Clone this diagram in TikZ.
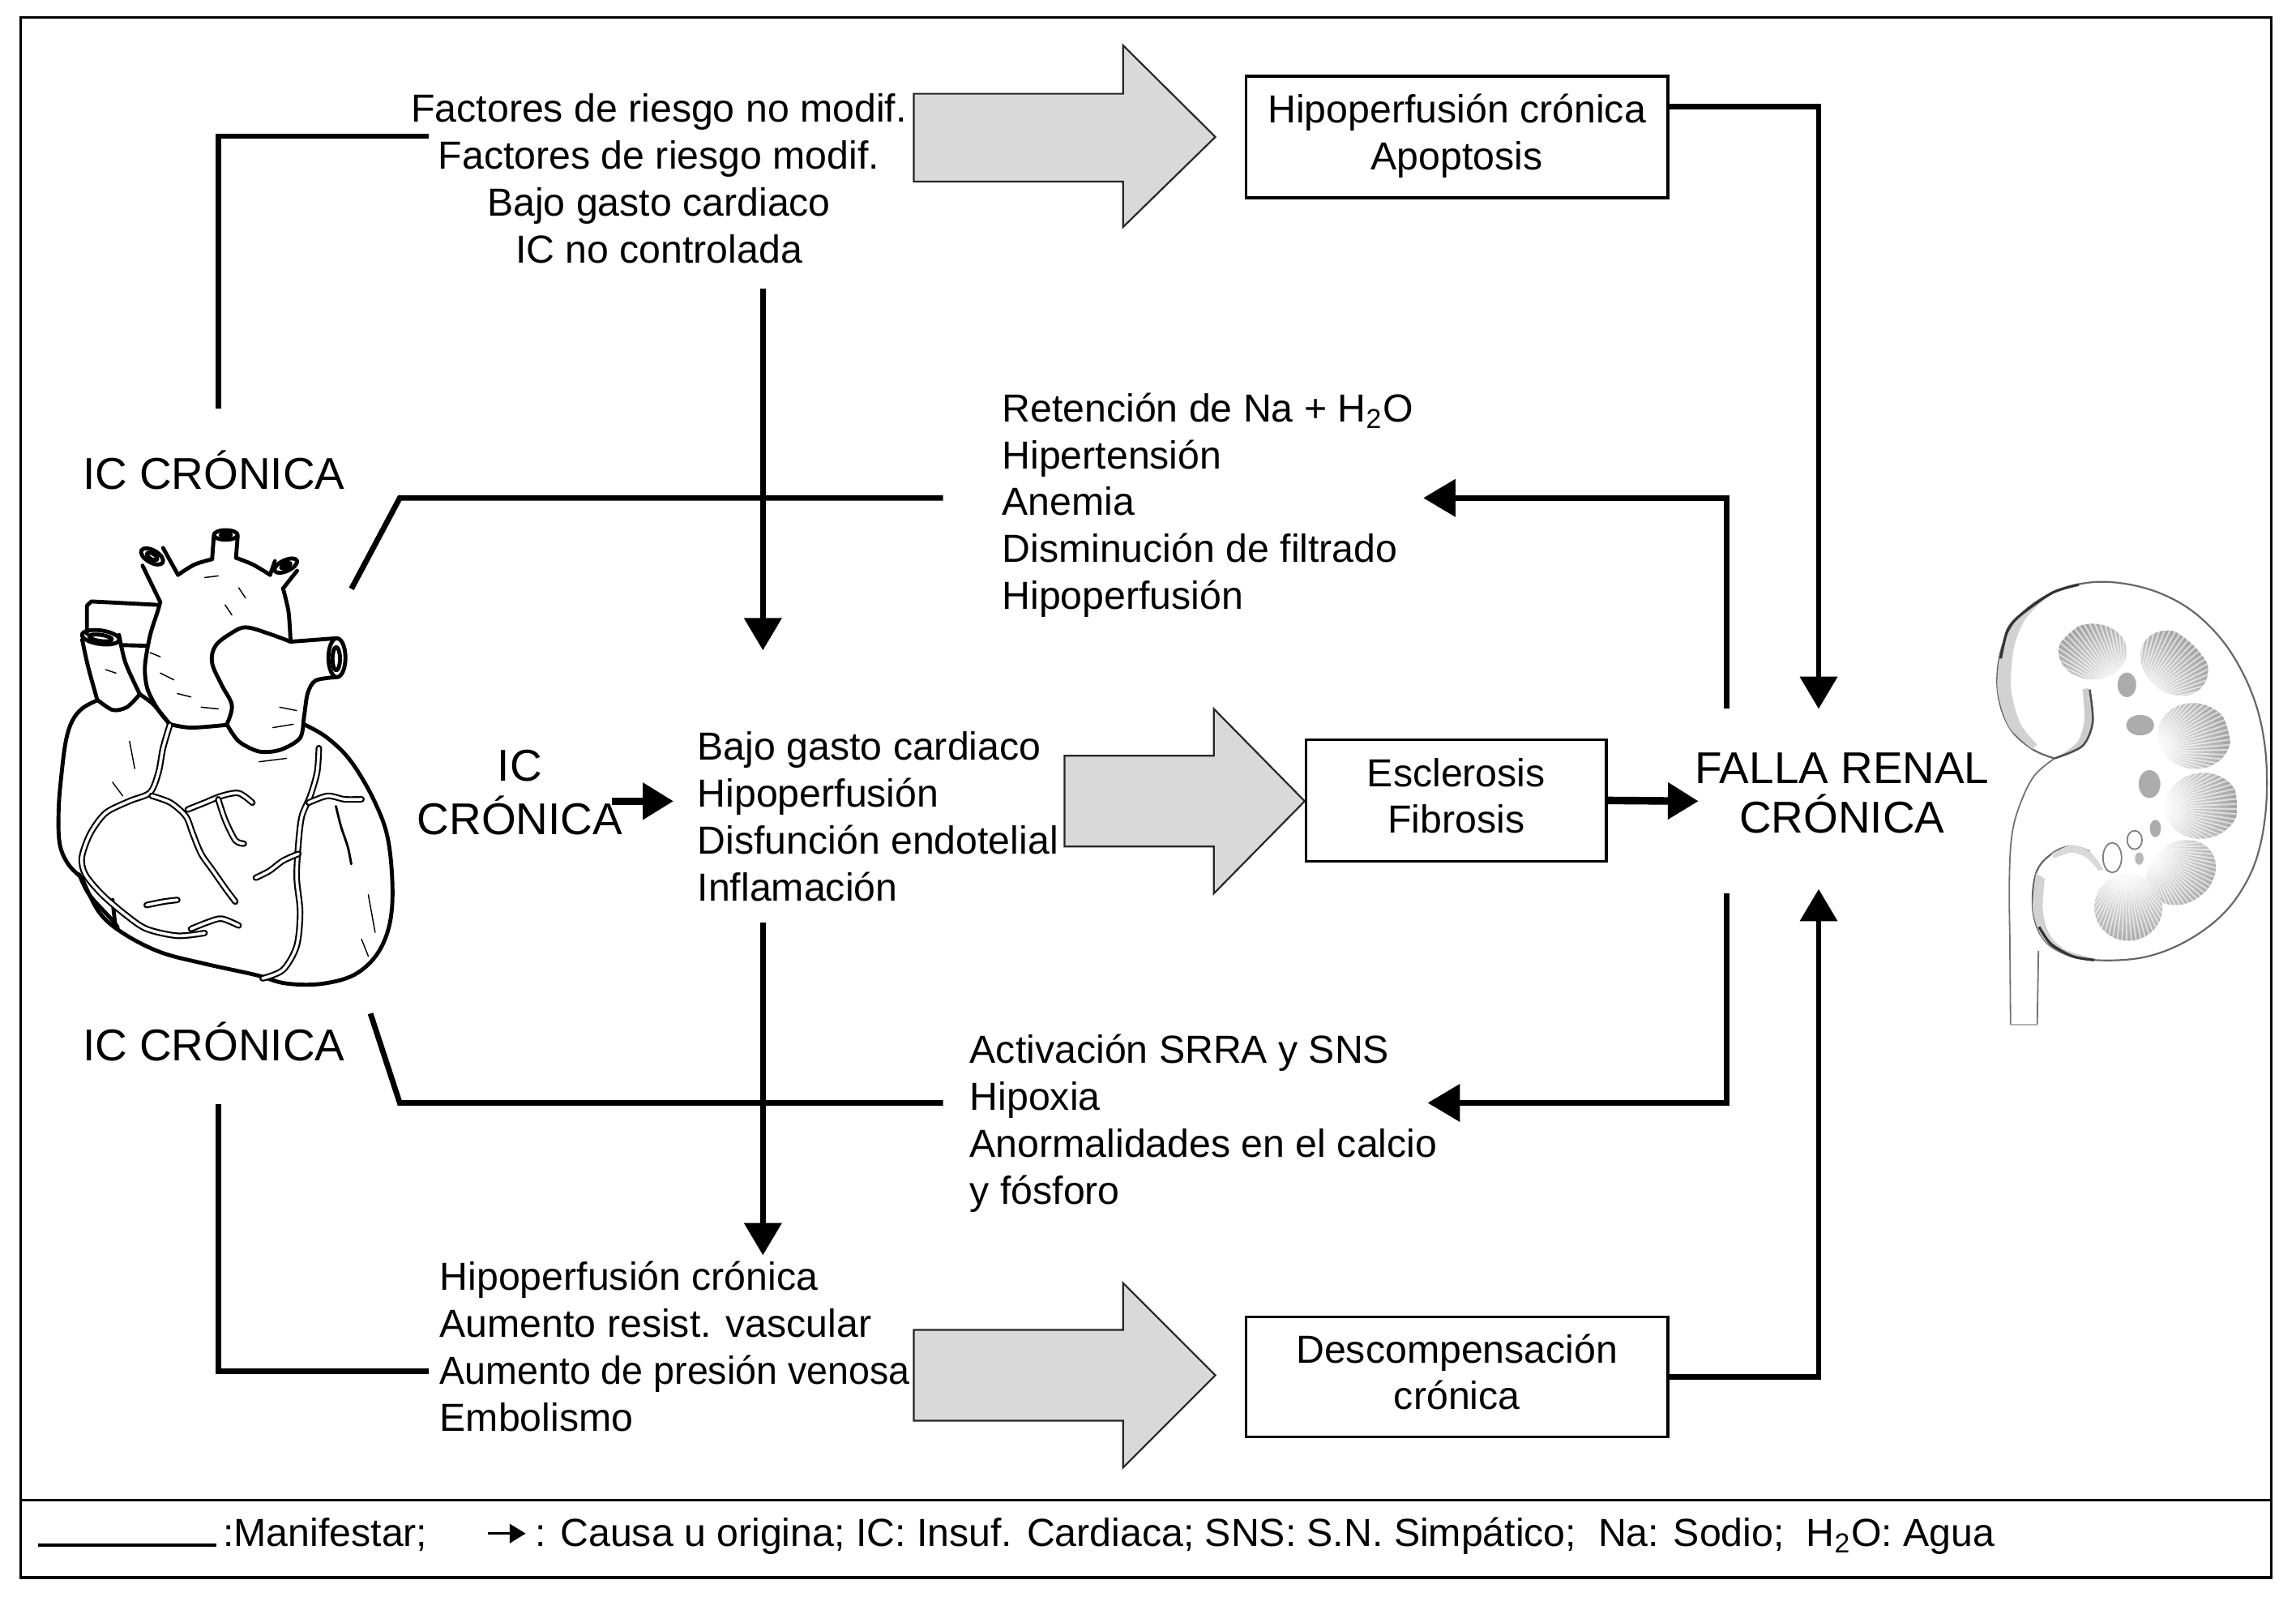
\documentclass[tikz,border=0pt]{standalone}
\usepackage{fontspec}
\usepackage{graphicx}
\setmainfont{Liberation Sans}
\usetikzlibrary{arrows.meta}
\newcommand\fsz{\fontsize{13.35pt}{16pt}\selectfont}
\newcommand\fbig{\fontsize{15.2pt}{17.5pt}\selectfont}
\newcommand\mylines[2][l]{\begin{tabular}[t]{@{}#1@{}}#2\end{tabular}}
% pyramid: cx cy rx ry rot apexX apexY
\newcommand\pyr[7]{%
  \begin{scope}
   \clip[rotate around={#5:(#1,#2)}] (#1,#2) ellipse[x radius=#3, y radius=#4];
   \shade[inner color=white, outer color=gray!72] (#6,#7) circle[radius=270];
   \pgfmathsetmacro\pbase{atan2(#2-#7,#1-#6)}%
   \foreach \k in {0,...,34}{%
     \pgfmathsetmacro\pang{\pbase-60+3.5*\k}%
     \draw[white, opacity=0.6, line width=0.5pt] (#6,#7) -- ++(\pang:420);}%
  \end{scope}%
}
\tikzset{
  conn/.style={line width=1.9pt, line join=miter},
  tip/.style={-{Triangle[length=11pt,width=12.5pt]}},
  fat/.style={line width=2.6pt, -{Triangle[length=10.5pt,width=12pt]}},
  blk/.style={fill=gray!30, draw=black!85, line width=0.6pt, line join=miter},
  box/.style={draw, line width=0.9pt, inner sep=0pt, font=\fsz},
  txt/.style={inner sep=0pt, font=\fsz},
  big/.style={inner sep=0pt, font=\fbig},
  hl/.style={line width=1.35pt, line join=round, line cap=round},
  vessel/.style={line width=0.6pt, double=white, double distance=1pt, line cap=round, line join=round},
  thinl/.style={line width=0.4pt, line cap=round},
}
\begin{document}
\begin{tikzpicture}[x=0.5pt,y=-0.5pt]
\useasboundingbox (0,0) rectangle (1568,1090);
\fill[white] (0,0) rectangle (1568,1090);
% frame and legend separator
\draw[line width=0.9pt] (14,12) rectangle (1551,1077);
\draw[line width=0.9pt] (14,1024) -- (1551,1024);

% ---------------- big gray arrows ----------------
\draw[blk] (624,64) -- (767,64) -- (767,31) -- (830,93.5) -- (767,155) -- (767,124) -- (624,124) -- cycle;
\draw[blk] (727,516) -- (829,516) -- (829,484) -- (891,547) -- (829,610) -- (829,578) -- (727,578) -- cycle;
\draw[blk] (624,908) -- (767,908) -- (767,876) -- (830,939) -- (767,1002) -- (767,970) -- (624,970) -- cycle;

% ---------------- texts ----------------
\node[txt, anchor=base] (t1) at (450,83.5) {\mylines[c]{Factores de riesgo no modif.\\Factores de riesgo modif.\\Bajo gasto cardiaco\\IC no controlada}};
\node[txt, anchor=base west] (t2) at (684,288) {\mylines{Retención de Na + H\textsubscript{2}O\\Hipertensión\\Anemia\\Disminución de filtrado\\Hipoperfusión}};
\node[txt, anchor=base west] (t3) at (476,519) {\mylines{Bajo gasto cardiaco\\Hipoperfusión\\Disfunción endotelial\\Inflamación}};
\node[txt, anchor=base west] (t4) at (662,726) {\mylines{Activación SRRA y SNS\\Hipoxia\\Anormalidades en el calcio\\y fósforo}};
\node[txt, anchor=base west] (t5) at (300,881) {\mylines{Hipoperfusión crónica\\Aumento resist. vascular\\\scalebox{0.965}[1]{Aumento de presión venosa}\\Embolismo}};
\node[big, anchor=base] (ic1) at (146,334) {IC CRÓNICA};
\node[big, anchor=base] (ic2) at (146,724) {IC CRÓNICA};
\node[big, anchor=base] (ic3) at (355,533) {\mylines[c]{IC\\CRÓNICA}};
\node[big, anchor=base] (frc) at (1258,535) {\mylines[c]{FALLA RENAL\\[-1.5pt]CRÓNICA}};

% ---------------- boxes ----------------
\node[box, minimum width=144pt, minimum height=41.5pt] (b1) at (995,93.5) {\raisebox{-1.5pt}{\mylines[c]{Hipoperfusión crónica\\Apoptosis}}};
\node[box, minimum width=102.5pt, minimum height=41.5pt] (b2) at (994.5,546.5) {\raisebox{1.5pt}{\mylines[c]{Esclerosis\\Fibrosis}}};
\node[box, minimum width=144pt, minimum height=41pt] (b3) at (995,940) {\raisebox{0.5pt}{\mylines[c]{Descompensación\\crónica}}};

% ---------------- connector end points ----------------
\coordinate (brA) at (149,279);
\coordinate (brB) at (293,93);
\coordinate (brC) at (149,754);
\coordinate (brD) at (293,936);
\coordinate (d1s) at (521,197);
\coordinate (d1e) at (521,444);
\coordinate (d2s) at (521,630);
\coordinate (d2e) at (521,857);
\coordinate (hA) at (240,402);
\coordinate (hB) at (273,340);
\coordinate (hC) at (644,340);
\coordinate (hD) at (253,692);
\coordinate (hE) at (273,753);
\coordinate (hF) at (644,753);
\coordinate (kTop) at (1242,484);
\coordinate (kBot) at (1242,607);
\coordinate (kL1) at (1179,484);
\coordinate (kL2) at (1179,610);
\coordinate (rA) at (972,340);
\coordinate (rB) at (975,753);
\coordinate (icS) at (418,547);
\coordinate (icE) at (460,547);
\coordinate (frW) at (1160,547);

% ---------------- connectors ----------------
\draw[conn] (brA) |- (brB);
\draw[conn] (brC) |- (brD);
\draw[conn, tip] (d1s) -- (d1e);
\draw[conn, tip] (d2s) -- (d2e);
\draw[conn] (hA) -- (hB) -- (hC);
\draw[conn] (hD) -- (hE) -- (hF);
\draw[conn, tip] ([yshift=10.25pt]b1.east) -| (kTop);
\draw[conn, tip] (b3.east) -| (kBot);
\draw[conn, tip] (kL1) |- (rA);
\draw[conn, tip] (kL2) |- (rB);
\draw[fat] (icS) -- (icE);
\draw[fat] (b2.east) -- (frW);

% ---------------- legend ----------------
\coordinate (lgA) at (26,1055);
\coordinate (lgB) at (148,1055);
\draw[line width=1.1pt] (lgA) -- (lgB);
\node[txt, anchor=base west] (lg1) at (152,1056) {:Manifestar;};
\coordinate (lgC) at (333,1047);
\coordinate (lgD) at (359,1047);
\draw[line width=0.9pt, -{Triangle[length=5.5pt,width=6.5pt]}] (lgC) -- (lgD);
\node[txt, anchor=base west] (lg2) at (365,1056) {: Causa u origina; IC: Insuf. Cardiaca; SNS: S.N. Simpático;\ \ Na: Sodio;\ \ H\textsubscript{2}O: Agua};

% ---------------- heart ----------------
\begin{scope}[shift={(0,343.1)}, scale=0.2329]
 % superior vena cava
 \draw[hl, rotate around={-8:(295,395)}] (295,395) ellipse[x radius=55, y radius=20];
 \draw[hl, rotate around={-8:(295,397)}] (295,397) ellipse[x radius=34, y radius=9];
 \draw[hl] plot[smooth] coordinates {(241,402) (258,480) (285,578)};
 \draw[hl] plot[smooth] coordinates {(349,388) (368,470) (410,562)};
 \draw[hl] plot[smooth] coordinates {(285,578) (330,608) (372,600) (410,562)};
 % right pulmonary artery
 \draw[hl] (462,300) -- (268,290) -- (255,302) -- (255,385);
 \draw[hl] (360,418) -- (432,420);
 % right atrium
 \draw[hl] plot[smooth, tension=0.6] coordinates {(285,580) (242,603) (212,640) (193,700) (180,800) (172,900) (175,1000) (200,1060) (240,1100)};
 \draw[hl] plot[smooth] coordinates {(410,562) (448,590) (478,625) (498,650)};
 % ventricles
 \draw[hl] plot[smooth, tension=0.6] coordinates {(240,1100) (290,1200) (360,1262) (470,1318) (600,1352) (750,1385) (840,1410) (950,1410) (1050,1378) (1120,1300) (1150,1180) (1140,1000) (1100,880) (1030,760) (960,690) (895,652)};
 \draw[hl] plot[smooth] coordinates {(232,1090) (262,1150) (330,1225) (345,1245)};
 \draw[hl] (330,1165) -- (338,1240);
 % aorta and arch vessels
 \draw[hl] plot[smooth] coordinates {(498,650) (462,605) (432,545) (425,480) (440,390) (462,320) (470,292)};
 \draw[hl] plot[smooth] coordinates {(498,650) (560,660) (665,652)};
 \draw[hl] (470,292) -- (418,185);
 \draw[hl] (522,212) -- (478,133);
 \draw[hl, rotate around={-30:(446,158)}] (446,158) ellipse[x radius=36, y radius=18];
 \draw[hl, rotate around={-30:(446,158)}] (446,158) ellipse[x radius=17, y radius=8];
 \draw[hl] plot[smooth] coordinates {(522,212) (570,182) (622,166)};
 \draw[hl] (622,166) -- (627,98);
 \draw[hl] (692,162) -- (697,98);
 \draw[hl] (662,95) ellipse[x radius=35, y radius=14];
 \draw[hl] (662,95) ellipse[x radius=15, y radius=6];
 \draw[hl] plot[smooth] coordinates {(692,162) (742,182) (792,212)};
 \draw[hl] (792,212) -- (806,172);
 \draw[hl] (830,252) -- (871,200);
 \draw[hl, rotate around={25:(838,185)}] (838,185) ellipse[x radius=36, y radius=16];
 \draw[hl, rotate around={25:(838,185)}] (838,185) ellipse[x radius=15, y radius=6];
 \draw[hl] plot[smooth] coordinates {(830,252) (846,320) (852,405)};
 % pulmonary trunk
 \draw[hl] plot[smooth, tension=0.6] coordinates {(665,650) (680,595) (650,535) (622,470) (632,420) (680,382) (722,366) (790,385) (852,408)};
 \draw[hl] (852,408) -- (985,398);
 \draw[hl] plot[smooth] coordinates {(985,512) (925,522) (902,560) (892,625) (880,690) (822,725) (760,730) (700,700) (665,650)};
 \draw[hl, fill=white] (988,455) ellipse[x radius=25, y radius=57];
 \draw[hl] (986,458) ellipse[x radius=11, y radius=34];
 % coronary vessels
 \draw[vessel] plot[smooth] coordinates {(498,652) (478,720) (465,790) (440,850) (380,875) (310,910) (265,970) (240,1040) (250,1090) (300,1150) (370,1210) (430,1250) (520,1270) (600,1262)};
 \draw[vessel] plot[smooth] coordinates {(445,860) (500,880) (545,920) (565,970) (590,1030) (625,1080) (660,1130) (690,1170)};
 \draw[vessel] plot[smooth] coordinates {(550,900) (600,880) (650,860) (700,852) (740,880)};
 \draw[vessel] plot[smooth] coordinates {(935,720) (930,790) (910,860) (885,920) (875,1000) (870,1100) (880,1200) (870,1300) (830,1370) (770,1395)};
 \draw[vessel] plot[smooth] coordinates {(905,880) (960,860) (1010,870) (1060,870)};
 \draw[vessel] plot[smooth] coordinates {(875,1030) (830,1050) (790,1080) (750,1100)};
 \draw[vessel] plot[smooth] coordinates {(560,1250) (610,1230) (650,1220) (700,1240)};
 \draw[vessel] plot[smooth] coordinates {(640,870) (660,930) (690,990) (715,1000)};
 \draw[vessel] plot[smooth] coordinates {(430,1180) (480,1170) (520,1165)};
 % details
 \draw[line width=0.8pt, line cap=round] plot[smooth] coordinates {(985,890) (1000,950) (1020,1010) (1030,1060)};
 \foreach \a/\b/\c/\d in {470/500/510/520, 440/440/470/452, 590/600/640/605, 820/600/870/610, 800/660/860/650, 760/760/840/750, 600/220/640/215, 660/300/680/330, 310/490/340/500, 1080/1150/1100/1260, 1060/1280/1080/1330, 380/700/395/780, 330/820/360/860, 700/250/720/280, 520/560/560/570}
   \draw[thinl] (\a,\b) -- (\c,\d);
\end{scope}

% ---------------- kidney ----------------
\begin{scope}[shift={(1239.6,381.8)}, scale=0.2118]
 \draw[black!55, line width=0.5pt] plot[smooth, tension=0.6] coordinates {(772,642) (705,700) (657,800) (633,900) (626,1050) (628,1250) (630,1500)};
 \draw[black!55, line width=0.5pt] (720,1262) -- (716,1500);
 \draw[black!30, line width=0.4pt] (630,1500) -- (716,1500);
 \path[fill=white, draw=black!60, line width=0.6pt] plot[smooth, tension=0.6] coordinates {(772,642) (700,612) (625,540) (588,420) (602,285) (662,180) (765,108) (885,75) (1005,80) (1125,115) (1235,182) (1335,292) (1412,442) (1450,602) (1455,782) (1430,942) (1378,1062) (1298,1160) (1180,1240) (1050,1285) (900,1292) (800,1270) (733,1220) (702,1130) (712,1012) (762,950) (825,925) (885,942)};
 % rims
 \fill[gray!35] plot[smooth] coordinates {(700,612) (625,540) (588,420) (602,285) (662,180) (765,108)} -- plot[smooth] coordinates {(745,122) (676,196) (640,290) (632,420) (662,530) (716,598)} -- cycle;
 \draw[black!80, line width=0.9pt] plot[smooth] coordinates {(598,320) (620,230) (662,180) (765,108) (850,82)};
 \fill[gray!35] plot[smooth] coordinates {(712,1012) (702,1130) (733,1220) (800,1270) (900,1292)} -- plot[smooth] coordinates {(880,1282) (805,1258) (755,1208) (734,1130) (740,1030)} -- cycle;
 \draw[black!80, line width=0.9pt] plot[smooth] coordinates {(722,1185) (760,1240) (830,1280) (900,1292)};
 \fill[gray!40] plot[smooth] coordinates {(880,415) (893,520) (862,600) (775,642)} -- plot[smooth] coordinates {(792,630) (845,590) (868,520) (862,420)} -- cycle;
 \draw[black!70, line width=0.7pt] plot[smooth] coordinates {(885,420) (895,525) (862,602) (772,642)};
 \fill[gray!30] plot[smooth] coordinates {(762,950) (825,922) (885,942) (930,1000)} -- plot[smooth] coordinates {(915,1005) (875,962) (825,946) (770,965)} -- cycle;
 % pyramids
 \pyr{895}{298}{110}{90}{0}{1000}{440}
 \pyr{1158}{335}{118}{95}{-40}{1030}{470}
 \pyr{1222}{570}{118}{106}{-10}{1070}{620}
 \pyr{1247}{795}{120}{106}{10}{1090}{800}
 \pyr{1180}{1010}{118}{98}{35}{1060}{930}
 \pyr{1010}{1122}{110}{108}{0}{1000}{980}
 % calyces
 \fill[gray!65] (1005,405) ellipse[x radius=30, y radius=40];
 \fill[gray!65] (1048,535) ellipse[x radius=45, y radius=33];
 \fill[gray!65] (1078,725) ellipse[x radius=35, y radius=45];
 \fill[gray!65] (1097,868) ellipse[x radius=18, y radius=28];
 \draw[black!50, line width=0.5pt, fill=white] (958,962) ellipse[x radius=30, y radius=48];
 \draw[black!50, line width=0.5pt, fill=white] (1030,905) ellipse[x radius=24, y radius=30];
 \fill[gray!55] (1045,965) ellipse[x radius=14, y radius=20];
\end{scope}
\end{tikzpicture}
\end{document}
